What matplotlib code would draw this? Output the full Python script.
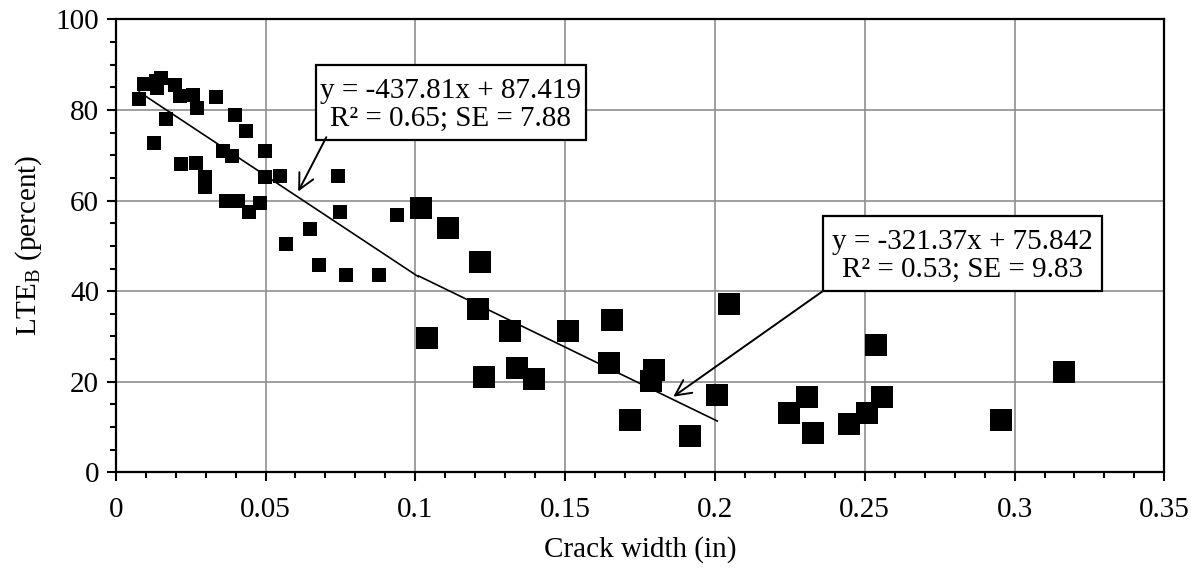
import matplotlib
matplotlib.use("Agg")
import matplotlib.pyplot as plt
from matplotlib.patches import Rectangle
from matplotlib.ticker import MultipleLocator, FuncFormatter

plt.rcParams["font.family"] = ["Liberation Serif", "DejaVu Serif"]
plt.rcParams["mathtext.fontset"] = "custom"
plt.rcParams["mathtext.rm"] = "Liberation Serif"

# Narrow cracks (small markers)
crack_small = [0.0078, 0.0094, 0.0136, 0.0152, 0.0139, 0.0197, 0.0213, 0.0258, 0.0271,
               0.0336, 0.0397, 0.0436, 0.0497, 0.0128, 0.0169, 0.0219, 0.0267, 0.0297,
               0.0297, 0.0358, 0.0388, 0.0369, 0.0408, 0.0444, 0.0480, 0.0497, 0.0547,
               0.0569, 0.0647, 0.0680, 0.0769, 0.0741, 0.0747, 0.0878, 0.0938]
lte_small = [82.4, 85.8, 86.5, 87.1, 84.8, 85.6, 83.1, 83.4, 80.4,
             82.9, 78.9, 75.4, 71.0, 72.8, 78.0, 68.1, 68.4, 65.1,
             62.9, 71.0, 69.9, 60.0, 60.0, 57.4, 59.4, 65.1, 65.5,
             50.5, 53.8, 45.7, 43.5, 65.5, 57.4, 43.5, 56.9]

# Wide cracks (large markers)
crack_large = [0.1019, 0.1108, 0.1217, 0.1208, 0.1038, 0.1317, 0.1228, 0.1338, 0.1397,
               0.1508, 0.1658, 0.1647, 0.1797, 0.1786, 0.1717, 0.1917, 0.2008, 0.2047,
               0.2536, 0.2308, 0.2247, 0.2327, 0.2447, 0.2506, 0.2556, 0.2956, 0.3166]
lte_large = [58.4, 54.0, 46.4, 36.0, 29.6, 31.1, 21.0, 23.0, 20.6,
             31.1, 33.6, 24.1, 22.6, 20.1, 11.6, 8.1, 17.1, 37.1,
             28.1, 16.6, 13.1, 8.7, 10.7, 13.1, 16.6, 11.6, 22.1]

# Linear fits: slope, intercept and the crack-width span each line covers
fit1_slope, fit1_intercept, fit1_span = -437.81, 87.419, (0.0078, 0.101)
fit2_slope, fit2_intercept, fit2_span = -321.37, 75.842, (0.101, 0.2008)
fit1_label = "y = -437.81x + 87.419\nR² = 0.65; SE = 7.88"
fit2_label = "y = -321.37x + 75.842\nR² = 0.53; SE = 9.83"

FS = 21

fig = plt.figure(figsize=(11.99, 5.69), dpi=100)
ax = fig.add_axes([0.0965, 0.170, 0.8746, 0.7958])

ax.set_xlim(0, 0.35)
ax.set_ylim(0, 100)
ax.xaxis.set_major_locator(MultipleLocator(0.05))
ax.xaxis.set_minor_locator(MultipleLocator(0.01))
ax.yaxis.set_major_locator(MultipleLocator(20))
ax.yaxis.set_minor_locator(MultipleLocator(5))
ax.xaxis.set_major_formatter(FuncFormatter(lambda v, p: f"{v:.2f}".rstrip("0").rstrip(".") if v else "0"))

ax.grid(True, which="major", color="#8f8f8f", linewidth=1.2, zorder=0)
ax.set_axisbelow(True)
for s in ax.spines.values():
    s.set_linewidth(1.6)
    s.set_color("black")

ax.tick_params(axis="both", which="major", direction="out", length=6.5, width=1.5,
               labelsize=FS, colors="black")
ax.tick_params(axis="both", which="minor", direction="out", length=4.5, width=1.5)
ax.tick_params(axis="x", which="major", pad=11)
ax.tick_params(axis="y", which="major", pad=5.5)

ax.plot(crack_small, lte_small, linestyle="none", marker="s", markersize=10,
        markeredgewidth=0, color="black", zorder=3)
ax.plot(crack_large, lte_large, linestyle="none", marker="s", markersize=16.5,
        markeredgewidth=0, color="black", zorder=3)

for slope, intercept, span in [(fit1_slope, fit1_intercept, fit1_span),
                               (fit2_slope, fit2_intercept, fit2_span)]:
    xs = list(span)
    ys = [slope * v + intercept for v in xs]
    ax.plot(xs, ys, color="black", linewidth=1.2, zorder=4)

# Equation boxes with leader arrows
boxes = [
    (fit1_label, (0.0668, 73.4), (0.1570, 89.95), (0.0703, 74.0), (0.0609, 62.0)),
    (fit2_label, (0.2360, 40.0), (0.3291, 56.6), (0.2360, 40.0), (0.1861, 16.7)),
]
for label, (x0, y0), (x1, y1), start, tip in boxes:
    ax.add_patch(Rectangle((x0, y0), x1 - x0, y1 - y0, facecolor="white",
                           edgecolor="black", linewidth=1.6, zorder=5))
    ax.text((x0 + x1) / 2, (y0 + y1) / 2 - 0.6, label, ha="center", va="center",
            fontsize=FS, linespacing=1.1, zorder=6)
    ax.annotate("", xy=tip, xytext=start,
                arrowprops=dict(arrowstyle="->", color="black", lw=1.4,
                                mutation_scale=28, shrinkA=0, shrinkB=0),
                zorder=6)

ax.set_xlabel("Crack width (in)", fontsize=FS, labelpad=10)
ax.set_ylabel(r"LTE$_\mathregular{B}$ (percent)", fontsize=FS, labelpad=8)

fig.savefig("out.png", dpi=100)
